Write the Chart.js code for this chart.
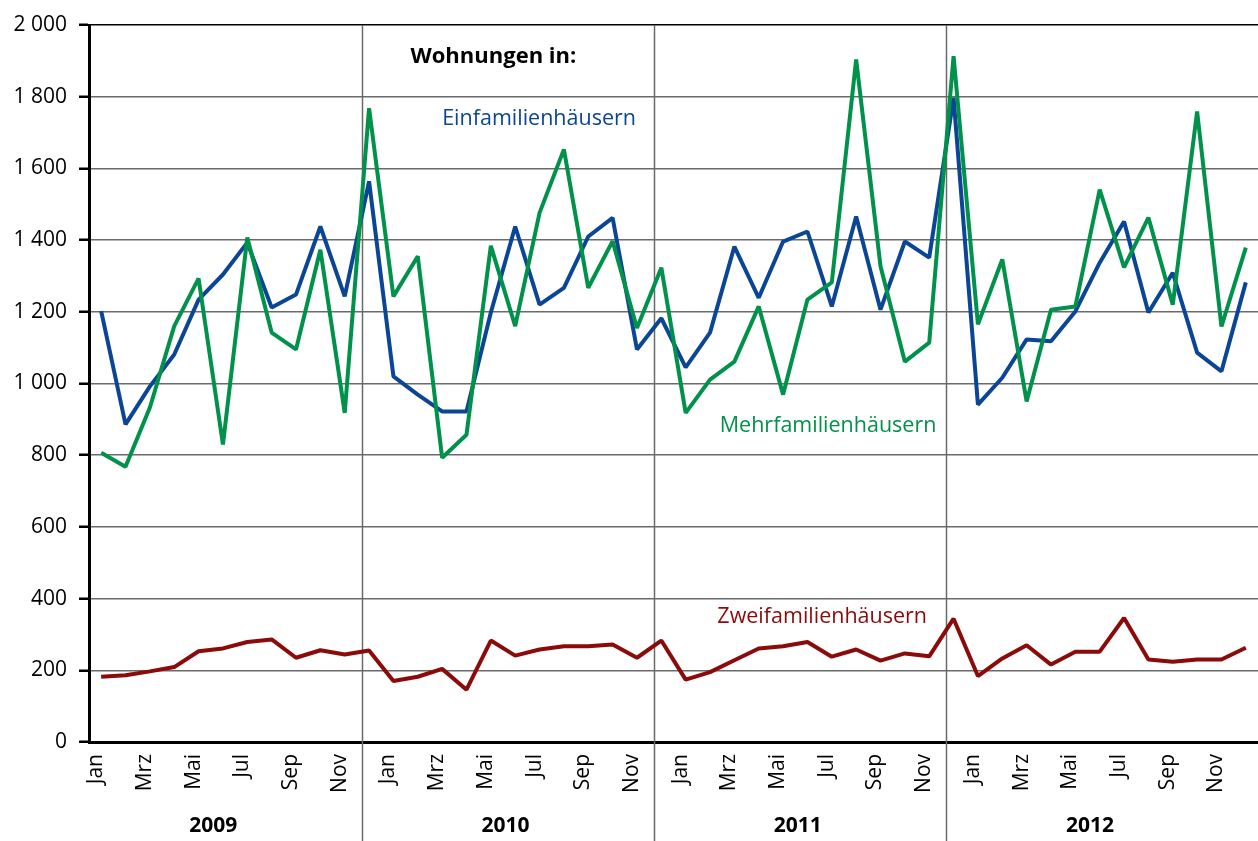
<!DOCTYPE html>
<html lang="de">
<head>
<meta charset="utf-8">
<script src="https://cdn.jsdelivr.net/npm/chart.js@4/dist/chart.umd.min.js"></script>
<style>
  html, body { margin: 0; padding: 0; background: #fff; }
  #wrap { width: 1258px; height: 841px; }
</style>
</head>
<body>
<div id="wrap"><canvas id="chart" width="1258" height="841"></canvas></div>
<script>
// Kategorien
const years = ['2009', '2010', '2011', '2012'];
const months = ['Jan', 'Feb', 'Mrz', 'Apr', 'Mai', 'Jun', 'Jul', 'Aug', 'Sep', 'Okt', 'Nov', 'Dez'];

// Wohnungen in Einfamilienhäusern
const einfamilien = [
  1202, 886, 992, 1081, 1234, 1304, 1393, 1212, 1248, 1438, 1243, 1564,
  1020, 969, 922, 922, 1198, 1438, 1220, 1267, 1410, 1462, 1095, 1182,
  1045, 1142, 1382, 1239, 1396, 1424, 1215, 1466, 1206, 1396, 1351, 1797,
  941, 1016, 1123, 1118, 1201, 1337, 1452, 1198, 1309, 1086, 1034, 1282
];
// Wohnungen in Mehrfamilienhäusern
const mehrfamilien = [
  807, 768, 933, 1160, 1293, 830, 1407, 1142, 1095, 1373, 918, 1768,
  1243, 1355, 793, 857, 1384, 1160, 1476, 1653, 1267, 1397, 1155, 1323,
  918, 1011, 1061, 1215, 969, 1234, 1282, 1904, 1327, 1061, 1114, 1913,
  1165, 1346, 950, 1206, 1215, 1541, 1324, 1463, 1220, 1759, 1159, 1379
];
// Wohnungen in Zweifamilienhäusern
const zweifamilien = [
  182, 186, 197, 209, 253, 261, 279, 286, 235, 256, 244, 255,
  170, 182, 204, 146, 283, 241, 258, 267, 267, 272, 235, 283,
  174, 195, 228, 261, 267, 279, 238, 258, 227, 247, 239, 344,
  184, 233, 270, 216, 252, 252, 346, 230, 224, 230, 230, 263
];

const yTickLabels = ['0', '200', '400', '600', '800', '1 000', '1 200', '1 400', '1 600', '1 800', '2 000'];

// Jahresgrenzen und Jahresbeschriftung (Kategorie-Index)
const yearBreaks = [10.7, 22.7, 34.7];
const yearLabelPos = [4.6, 16.6, 28.6, 40.6];

const labels = [];
years.forEach(y => months.forEach(m => labels.push(m + ' ' + y)));

const FONT = '"Open Sans", "Noto Sans", sans-serif';
const BLUE = '#0b4595';
const GREEN = '#00924a';
const RED = '#8b0a0a';

// Notizen im Diagramm: [Text, Index, Wert, Farbe, fett]
const notes = [
  ['Wohnungen in:', 12.7, 1912, '#000', true],
  ['Einfamilienhäusern', 14.0, 1739, BLUE, false],
  ['Mehrfamilienhäusern', 25.4, 883, GREEN, false],
  ['Zweifamilienhäusern', 25.3, 350, RED, false]
];

const extras = {
  id: 'extras',
  beforeDatasetsDraw(chart) {
    const { ctx, scales: { x }, chartArea } = chart;
    ctx.save();
    ctx.strokeStyle = '#6a6a6a';
    ctx.lineWidth = 1.5;
    yearBreaks.forEach(v => {
      const px = Math.round(x.getPixelForValue(v)) + 0.5;
      ctx.beginPath();
      ctx.moveTo(px, chartArea.top);
      ctx.lineTo(px, chart.height);
      ctx.stroke();
    });
    ctx.restore();
  },
  afterDraw(chart) {
    const { ctx, scales: { x, y }, chartArea } = chart;
    ctx.save();
    ctx.fillStyle = '#000';
    ctx.font = 'bold 21px ' + FONT;
    ctx.textAlign = 'center';
    ctx.textBaseline = 'middle';
    years.forEach((yr, i) => {
      ctx.fillText(yr, x.getPixelForValue(yearLabelPos[i]), chartArea.bottom + 84);
    });
    ctx.textAlign = 'left';
    notes.forEach(([t, i, v, c, b]) => {
      ctx.fillStyle = c;
      ctx.font = (b ? 'bold 22px ' : '21.5px ') + FONT;
      ctx.fillText(t, x.getPixelForValue(i), y.getPixelForValue(v));
    });
    ctx.restore();
  }
};

const line = (label, data, color) => ({
  label, data,
  borderColor: color,
  backgroundColor: color,
  borderWidth: 4,
  pointRadius: 0,
  tension: 0,
  borderJoinStyle: 'bevel',
  fill: false
});

new Chart(document.getElementById('chart'), {
  type: 'line',
  data: {
    labels,
    datasets: [
      line('Zweifamilienhäusern', zweifamilien, RED),
      line('Mehrfamilienhäusern', mehrfamilien, GREEN),
      line('Einfamilienhäusern', einfamilien, BLUE)
    ]
  },
  options: {
    responsive: false,
    animation: false,
    layout: { padding: { top: 25, right: 0, bottom: 0, left: 0 } },
    plugins: { legend: { display: false }, tooltip: { enabled: false } },
    scales: {
      x: {
        offset: true,
        grid: { display: false, drawTicks: false },
        border: { display: true, color: '#000', width: 3 },
        ticks: {
          autoSkip: false,
          maxRotation: 90,
          minRotation: 90,
          padding: 12,
          labelOffset: -5,
          color: '#000',
          font: { family: FONT, size: 21 },
          callback: (v, i) => (i % 2 === 0 ? months[i % 12] : '')
        },
        afterFit: s => { s.height = 99; s.paddingLeft = 0; s.paddingRight = 0; }
      },
      y: {
        min: 0,
        max: 2000,
        grid: {
          color: c => (c.tick && c.tick.value === 2000 ? '#000' : '#6a6a6a'),
          lineWidth: 1.5,
          tickLength: 10,
          tickColor: '#000',
          tickWidth: 2.5
        },
        border: { display: true, color: '#000', width: 3 },
        ticks: {
          stepSize: 200,
          padding: 12,
          color: '#000',
          font: { family: FONT, size: 21 },
          callback: (v, i) => yTickLabels[i]
        },
        afterFit: s => { s.width = 89; }
      }
    }
  },
  plugins: [extras]
});
</script>
</body>
</html>
